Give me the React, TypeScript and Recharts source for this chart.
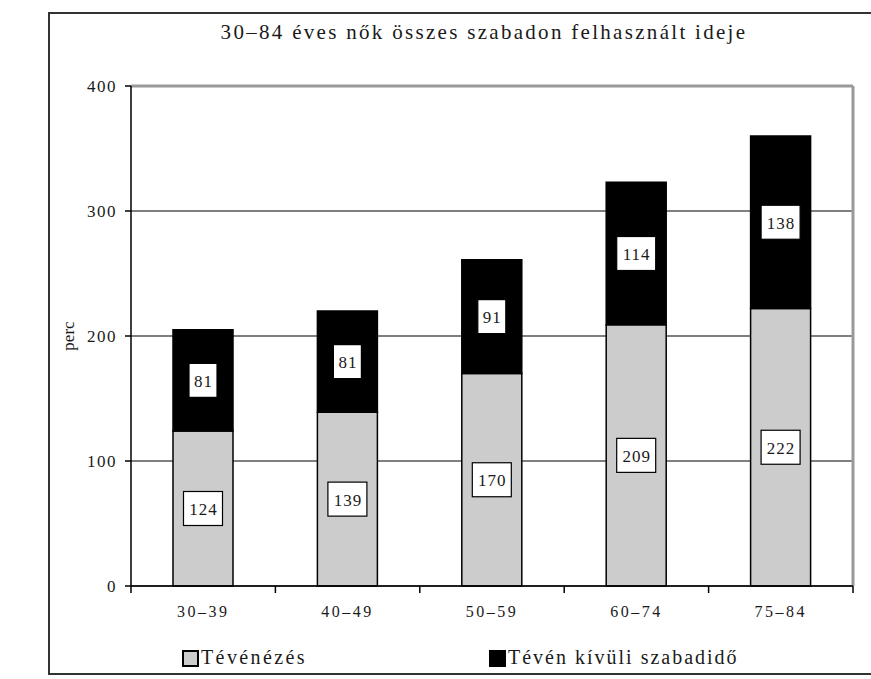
import React from 'react';
import {
  BarChart, Bar, XAxis, YAxis, CartesianGrid, ReferenceLine, Legend, LabelList
} from 'recharts';

const categories = ['30–39', '40–49', '50–59', '60–74', '75–84'];
const tvValues = [124, 139, 170, 209, 222];
const otherValues = [81, 81, 91, 114, 138];
const yTicks = [0, 100, 200, 300, 400];

const FONT = '"Liberation Serif", "DejaVu Serif", serif';
const INK = '#1a1a1a';
const TICK_MARGIN = 19;

const data = categories.map((cat, i) => ({
  cat,
  tv: tvValues[i],
  other: otherValues[i],
}));

// white box with a black border, centered in its segment
const BoxLabel = (props: any) => {
  const { x, y, width, height, value } = props;
  const cx = x + width / 2;
  const cy = y + height / 2;
  const w = String(value).length * 11 + 6;
  const h = 34;
  return (
    <g>
      <rect x={cx - w / 2} y={cy - h / 2} width={w} height={h} fill="#fff" stroke="#000" strokeWidth={1.2} />
      <text x={cx + 0.5} y={cy + 1} textAnchor="middle" dominantBaseline="central"
        fontSize={17} fontFamily={FONT} fill={INK} letterSpacing={1}>
        {value}
      </text>
    </g>
  );
};

// category label plus tick marks on the band edges
const CatTick = (props: any) => {
  const { x, y, payload, index, visibleTicksCount } = props;
  const half = payload.offset || 0;
  const axisY = y - TICK_MARGIN;
  const last = index === (visibleTicksCount ?? categories.length) - 1;
  return (
    <g>
      <line x1={x - half} x2={x - half} y1={axisY} y2={axisY + 7} stroke="#000" strokeWidth={1.5} />
      {last && <line x1={x + half} x2={x + half} y1={axisY} y2={axisY + 7} stroke="#000" strokeWidth={1.5} />}
      <text x={x} y={y} dy={12} textAnchor="middle" fontSize={16} fill={INK} fontFamily={FONT} letterSpacing={2.5}>
        {payload.value}
      </text>
    </g>
  );
};

const renderLegend = () => (
  <div style={{ position: 'relative', height: 43, width: 871, fontFamily: FONT, color: INK }}>
    <div style={{ position: 'absolute', left: 182, top: 14, width: 13, height: 13, background: '#cccccc', border: '2px solid #000' }} />
    <div style={{ position: 'absolute', left: 201, top: 8, fontSize: 20, letterSpacing: 2.4, lineHeight: '26px' }}>Tévénézés</div>
    <div style={{ position: 'absolute', left: 489, top: 14, width: 17, height: 17, background: '#000' }} />
    <div style={{ position: 'absolute', left: 508, top: 8, fontSize: 20, letterSpacing: 2, lineHeight: '26px' }}>Tévén kívüli szabadidő</div>
  </div>
);

export default function App() {
  return (
    <div style={{ position: 'absolute', left: 0, top: 0, width: 871, height: 679, background: '#fff', overflow: 'hidden' }}>
      <div style={{
        position: 'absolute', left: 48, top: 12, width: 840, height: 663,
        border: '2px solid #333', boxSizing: 'border-box'
      }} />
      <div style={{
        position: 'absolute', left: 0, top: 20, width: 968, textAlign: 'center',
        fontFamily: FONT, fontSize: 21, letterSpacing: 2.3, color: INK
      }}>
        30–84 éves nők összes szabadon felhasznált ideje
      </div>
      <BarChart
        width={871}
        height={679}
        data={data}
        margin={{ top: 86, right: 18, left: 0, bottom: 0 }}
        barSize={60}
        style={{ position: 'absolute', left: 0, top: 0 }}
      >
        <CartesianGrid vertical={false} stroke="#000" strokeWidth={1.2} />
        <XAxis
          dataKey="cat"
          height={50}
          axisLine={{ stroke: '#000', strokeWidth: 1.5 }}
          tickLine={false}
          tickSize={0}
          tickMargin={TICK_MARGIN}
          interval={0}
          tick={<CatTick />}
        />
        <YAxis
          width={131}
          domain={[0, 400]}
          ticks={yTicks}
          axisLine={{ stroke: '#000', strokeWidth: 1.5 }}
          tickLine={{ stroke: '#000', strokeWidth: 1.5 }}
          tickSize={6}
          tickMargin={8}
          tick={{ fontSize: 17, fill: INK, fontFamily: FONT, letterSpacing: 1.5 }}
          label={{ value: 'perc', angle: -90, position: 'center', dx: 2, fontSize: 17, fill: INK, fontFamily: FONT }}
        />
        {/* gray plot frame on top and right */}
        <ReferenceLine y={400} stroke="#999" strokeWidth={3} />
        <ReferenceLine x={categories[categories.length - 1]} position="end" stroke="#999" strokeWidth={3} />
        <Legend verticalAlign="bottom" height={43} content={renderLegend} wrapperStyle={{ left: 0, width: 871 }} />
        <Bar dataKey="tv" name="Tévénézés" stackId="a"
          fill="#cccccc" stroke="#000" strokeWidth={1.5} isAnimationActive={false}>
          <LabelList dataKey="tv" content={BoxLabel} />
        </Bar>
        <Bar dataKey="other" name="Tévén kívüli szabadidő" stackId="a"
          fill="#000" stroke="#000" strokeWidth={1.5} isAnimationActive={false}>
          <LabelList dataKey="other" content={BoxLabel} />
        </Bar>
      </BarChart>
    </div>
  );
}
